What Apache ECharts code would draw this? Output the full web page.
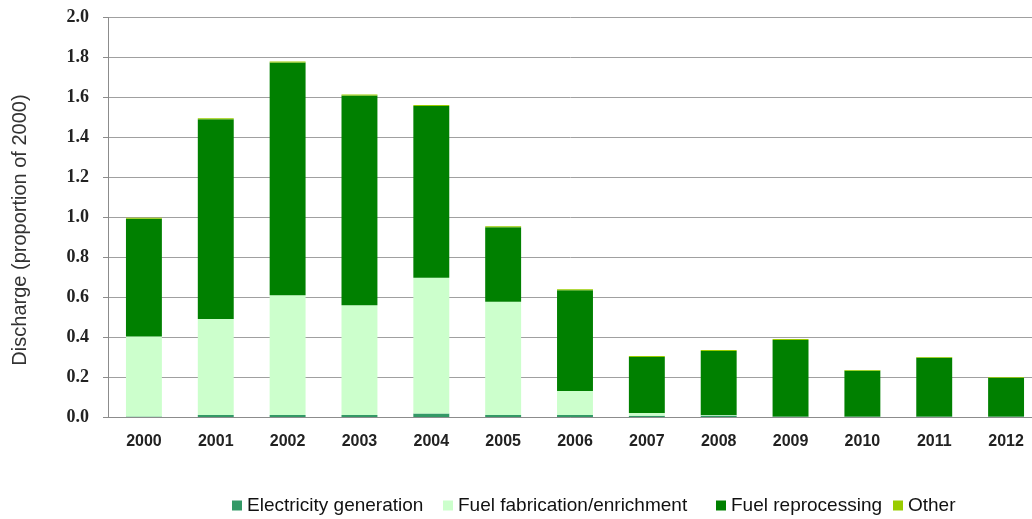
<!DOCTYPE html>
<html>
<head>
<meta charset="utf-8">
<script src="https://cdn.jsdelivr.net/npm/echarts@6/dist/echarts.min.js"></script>
<style>html,body{margin:0;padding:0;background:#fff}#c{width:1032px;height:519px}</style>
</head>
<body>
<div id="c"></div>
<script>
const years = ['2000','2001','2002','2003','2004','2005','2006','2007','2008','2009','2010','2011','2012'];
const electricity = [0.003, 0.01, 0.01, 0.01, 0.017, 0.01, 0.01, 0.006, 0.008, 0.003, 0.002, 0.002, 0.002];
const fabrication = [0.40, 0.48, 0.60, 0.55, 0.68, 0.567, 0.12, 0.014, 0.002, 0, 0, 0, 0];
const reprocessing = [0.59, 1.0, 1.165, 1.05, 0.86, 0.373, 0.505, 0.28, 0.32, 0.382, 0.23, 0.295, 0.195];
const other = [0.005, 0.005, 0.005, 0.005, 0.005, 0.005, 0.005, 0.005, 0.005, 0.005, 0.003, 0.003, 0.003];
const seriesNames = ['Electricity generation','Fuel fabrication/enrichment','Fuel reprocessing','Other'];
const colors = ['#339966','#ccffcc','#008000','#99cc00'];
const yTitle = 'Discharge (proportion of 2000)';
const legendLefts = [232, 443, 716, 893];

const chart = echarts.init(document.getElementById('c'), null, {renderer:'canvas'});
const data = [electricity, fabrication, reprocessing, other];
chart.setOption({
  animation:false,
  color: colors,
  grid:{left:108, width:934, top:17.5, bottom:102, outerBoundsMode:'none', containLabel:false},
  legend: seriesNames.map((n,i)=>({
    left:legendLefts[i], top:496, padding:0, itemWidth:10, itemHeight:10,
    icon:'rect',
    textStyle:{fontFamily:'Liberation Sans', fontSize:19, color:'#111'},
    data:[n]
  })),
  graphic:[{
    type:'text', x:20, y:230, rotation:Math.PI/2,
    style:{text:yTitle, fontFamily:'Liberation Sans', fontSize:20, fill:'#333', align:'center', verticalAlign:'middle'}
  }],
  xAxis:{
    type:'category', data:years,
    axisLine:{lineStyle:{color:'#8c8c8c', width:1}},
    axisTick:{show:false},
    axisLabel:{fontFamily:'Liberation Sans', fontWeight:'bold', fontSize:16, color:'#222', margin:17}
  },
  yAxis:{
    type:'value', min:0, max:2, interval:0.2,
    axisLine:{show:true, lineStyle:{color:'#8c8c8c'}},
    axisTick:{show:true, length:5, lineStyle:{color:'#8c8c8c'}},
    splitLine:{lineStyle:{color:'#a0a0a0'}},
    axisLabel:{formatter:v=>v.toFixed(1), fontFamily:'Liberation Serif', fontWeight:'bold', fontSize:18, color:'#222', margin:19}
  },
  series: seriesNames.map((n,i)=>({
    name:n, type:'bar', stack:'total', barWidth:'50%', data:data[i],
    itemStyle:{color:colors[i]}
  }))
});
</script>
</body>
</html>
